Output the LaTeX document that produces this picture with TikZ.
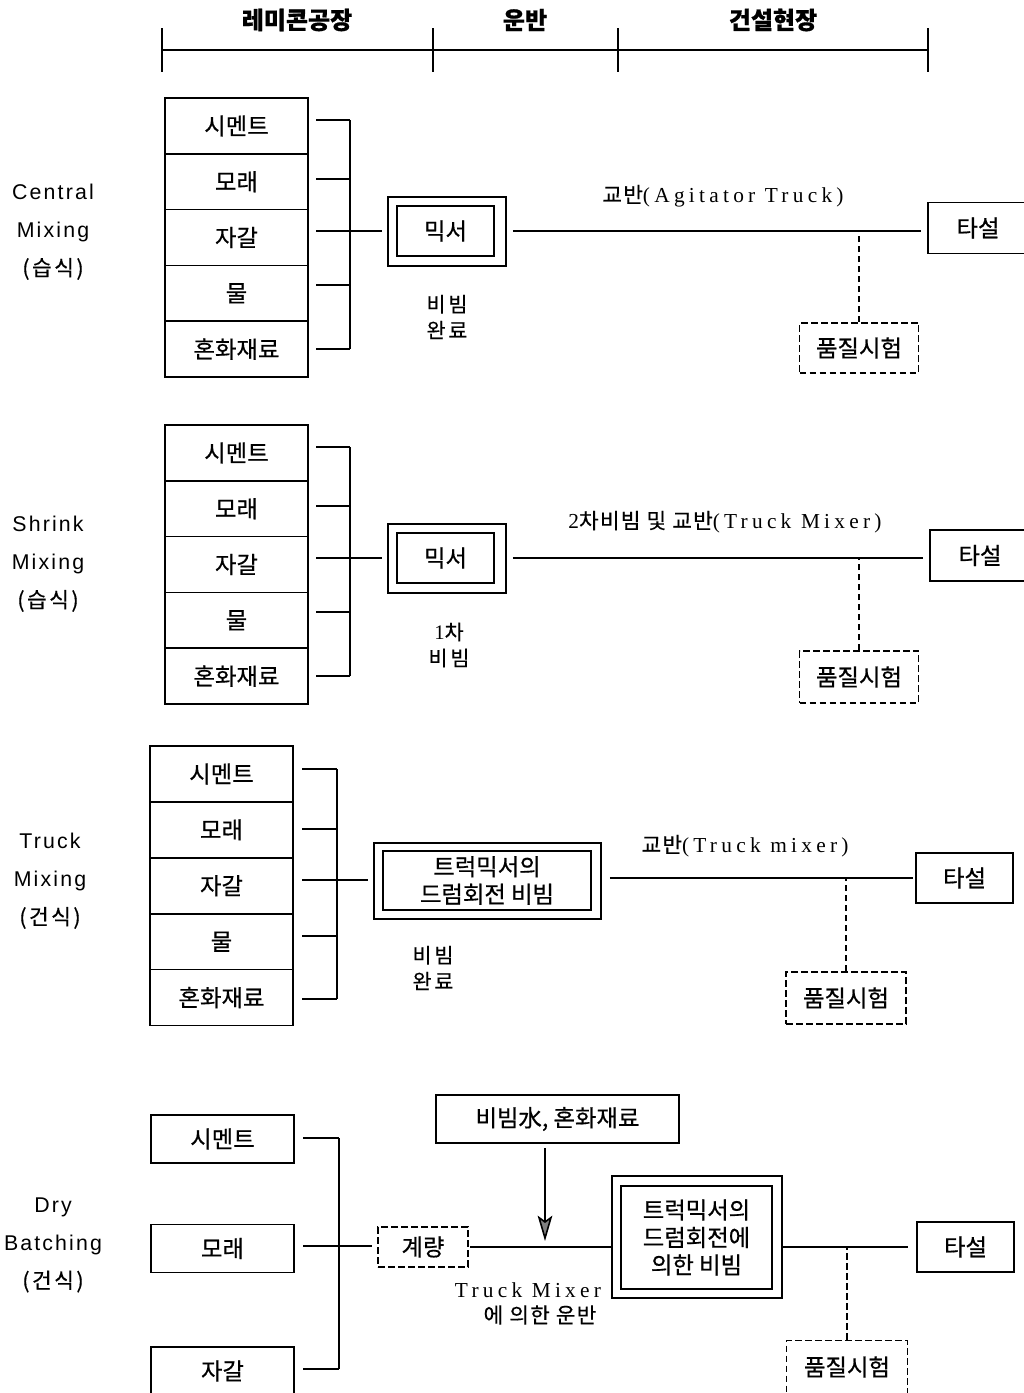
\documentclass[tikz,border=0pt]{standalone}
\usepackage{fontspec}
\setmainfont{Noto Sans CJK KR}[FakeBold=0.6]
\newfontfamily\kr{Noto Sans CJK KR}[LetterSpace=12,FakeBold=0.5]
\newfontfamily\krsp[LetterSpace=6,FakeBold=0.4]{Noto Sans CJK KR}
\newfontfamily\krnote[LetterSpace=14,FakeBold=0.4]{Noto Sans CJK KR}
\newfontfamily\lsans[LetterSpace=10]{Liberation Sans}
\newfontfamily\lserif[LetterSpace=20]{Liberation Serif}
\usetikzlibrary{arrows.meta,calc}
\begin{document}
\begin{tikzpicture}[x=0.75pt,y=-0.75pt,
  ln/.style={line width=1.2pt},
  dln/.style={line width=1.2pt,dash pattern=on 5pt off 2.5pt},
  wh/.style 2 args={minimum width=#1*0.75pt,minimum height=#2*0.75pt},
  bx/.style={draw,line width=1.2pt,inner sep=0pt,align=center,font=\fontsize{17.5}{20.6}\selectfont},
  dbx/.style={bx,dash pattern=on 5pt off 2.5pt},
  hdr/.style={font=\bfseries\fontsize{18}{20}\selectfont},
  side/.style={align=center,font=\lsans\fontsize{16}{28.5}\selectfont},
  lab/.style={inner sep=0pt,font=\fontsize{16}{20}\selectfont},
  note/.style={align=center,inner sep=0pt,font=\krnote\fontsize{15.5}{19.5}\selectfont}
]
\useasboundingbox (0,0) rectangle (1024,1393);

% ---------- header ----------
\node[hdr] (h1) at (297,20) {레미콘공장};
\node[hdr] (h2) at (525,20) {운반};
\node[hdr] (h3) at (773,20) {건설현장};
\coordinate (t0) at (162,50);
\coordinate (t1) at (433,50);
\coordinate (t2) at (618,50);
\coordinate (t3) at (928,50);
\draw[ln] (t0) -- (t3);
\foreach \t in {t0,t1,t2,t3}
  \draw[ln] ($(\t)+(0,-22)$) -- ($(\t)+(0,22)$);

% ---------- Central Mixing ----------
\node[side] (s1) at (53,232) {Central\\Mixing\\{\kr (습식)}};
\node[bx,wh={143}{55.8}] (c1a) at (236.5,125.9) {시멘트};
\node[bx,wh={143}{55.8}] (c1b) at (236.5,181.7) {모래};
\node[bx,wh={143}{55.8}] (c1c) at (236.5,237.5) {자갈};
\node[bx,wh={143}{55.8}] (c1d) at (236.5,293.3) {물};
\node[bx,wh={143}{55.8}] (c1e) at (236.5,349.1) {혼화재료};
\foreach \y in {120,179,231,285,349} \draw[ln] (316,\y) -- (350,\y);
\coordinate (v1t) at (350,120);
\coordinate (v1b) at (350,349);
\coordinate (v1m) at (350,231);
\draw[ln] (v1t) -- (v1b);
\node[bx,wh={118}{69}] (m1) at (447,231.5) {};
\node[bx,wh={97}{50}] (m1i) at (445.5,231) {믹서};
\draw[ln,shorten >=3.75pt] (v1m) -- (v1m -| m1.west);
\node[bx,wh={100}{51}] (p1) at (978,228) {타설};
\draw[ln,shorten <=4.5pt,shorten >=5pt] (m1.east |- v1m) -- (v1m -| p1.west);
\node[dbx,wh={119}{50}] (q1) at (859,348) {품질시험};
\draw[dln] (q1.north) -- (q1.north |- v1m);
\node[lab] (l1) at (723,196) {{\krsp 교반}{\lserif (Agitator Truck)}};
\node[note] (n1) at (447,317) {비빔\\완료};

% ---------- Shrink Mixing ----------
\node[side] (s2) at (48,564) {Shrink\\Mixing\\{\kr (습식)}};
\node[bx,wh={143}{55.8}] (c2a) at (236.5,452.9) {시멘트};
\node[bx,wh={143}{55.8}] (c2b) at (236.5,508.7) {모래};
\node[bx,wh={143}{55.8}] (c2c) at (236.5,564.5) {자갈};
\node[bx,wh={143}{55.8}] (c2d) at (236.5,620.3) {물};
\node[bx,wh={143}{55.8}] (c2e) at (236.5,676.1) {혼화재료};
\foreach \y in {447,506,558,612,676} \draw[ln] (316,\y) -- (350,\y);
\coordinate (v2t) at (350,447);
\coordinate (v2b) at (350,676);
\coordinate (v2m) at (350,558);
\draw[ln] (v2t) -- (v2b);
\node[bx,wh={118}{69}] (m2) at (447,558.5) {};
\node[bx,wh={97}{50}] (m2i) at (445.5,558) {믹서};
\draw[ln,shorten >=3.75pt] (v2m) -- (v2m -| m2.west);
\node[bx,wh={100}{51}] (p2) at (980,555.5) {타설};
\draw[ln,shorten <=4.5pt,shorten >=5pt] (m2.east |- v2m) -- (v2m -| p2.west);
\node[dbx,wh={119}{52}] (q2) at (859,677) {품질시험};
\draw[dln] (q2.north) -- (q2.north |- v2m);
\node[lab] (l2) at (725,522) {{\lserif 2}{\krsp 차비빔 및 교반}{\lserif (Truck Mixer)}};
\node[note] (n2) at (449,645) {{\lserif 1}차\\비빔};

% ---------- Truck Mixing ----------
\node[side] (s3) at (50,881) {Truck\\Mixing\\{\kr (건식)}};
\node[bx,wh={143}{55.9}] (c3a) at (221.5,773.95) {시멘트};
\node[bx,wh={143}{55.9}] (c3b) at (221.5,829.85) {모래};
\node[bx,wh={143}{55.9}] (c3c) at (221.5,885.75) {자갈};
\node[bx,wh={143}{55.9}] (c3d) at (221.5,941.65) {물};
\node[bx,wh={143}{55.9}] (c3e) at (221.5,997.55) {혼화재료};
\foreach \y in {769,829,880,936,999} \draw[ln] (302,\y) -- (337,\y);
\coordinate (v3t) at (337,769);
\coordinate (v3b) at (337,999);
\coordinate (v3m) at (337,880);
\draw[ln] (v3t) -- (v3b);
\node[bx,wh={227}{76}] (m3) at (487.5,881) {};
\node[bx,wh={208}{59}] (m3i) at (487,880.5) {트럭믹서의\\드럼회전 비빔};
\draw[ln,shorten >=3.75pt] (v3m) -- (v3m -| m3.west);
\node[bx,wh={97}{50}] (p3) at (964.5,878) {타설};
\draw[ln,shorten <=6pt,shorten >=1.5pt] (m3.east |- p3.west) -- (p3.west);
\node[dbx,wh={120}{52}] (q3) at (846,998) {품질시험};
\draw[dln] (q3.north) -- (q3.north |- p3.west);
\node[lab] (l3) at (745,846) {{\krsp 교반}{\lserif (Truck mixer)}};
\node[note] (n3) at (433,968) {비빔\\완료};

% ---------- Dry Batching ----------
\node[side] (s4) at (53,1245) {Dry\\Batching\\{\kr (건식)}};
\node[bx,wh={143}{48}] (d4a) at (222.5,1139) {시멘트};
\node[bx,wh={143}{48}] (d4b) at (222.5,1248.5) {모래};
\node[bx,wh={143}{48}] (d4c) at (222.5,1371) {자갈};
\foreach \y in {1138,1246,1369} \draw[ln] (303,\y) -- (339,\y);
\coordinate (v4t) at (339,1138);
\coordinate (v4b) at (339,1369);
\coordinate (v4m) at (339,1246);
\draw[ln] (v4t) -- (v4b);
\node[dbx,wh={90}{40}] (g4) at (423,1247) {계량};
\draw[ln,shorten >=3.75pt] (v4m) -- (v4m -| g4.west);
\node[bx,wh={170}{122}] (m4) at (697,1237) {};
\node[bx,wh={151}{103}] (m4i) at (696.5,1237.5) {트럭믹서의\\드럼회전에\\의한 비빔};
\draw[ln,shorten <=1pt] (g4.east) -- (g4.east -| m4.west);
\node[bx,wh={243}{48}] (w4) at (557.5,1119) {비빔水, 혼화재료};
\coordinate (a4) at (545,1241);
\draw[ln,shorten <=3.5pt,-{Stealth[length=19pt,width=11pt,inset=4pt,fill=gray]}] (a4 |- w4.south) -- (a4);
\node[bx,wh={97}{50}] (p4) at (965.5,1247) {타설};
\draw[ln,shorten >=6pt] (m4.east |- p4.west) -- (p4.west);
\node[dbx,wh={121}{53}] (q4) at (847,1367) {품질시험};
\draw[dln] (q4.north) -- (q4.north |- p4.west);
\node[lab] (l4a) at (528,1290) {\lserif Truck Mixer};
\node[lab] (l4b) at (540,1315) {\krsp 에 의한 운반};
\end{tikzpicture}
\end{document}
